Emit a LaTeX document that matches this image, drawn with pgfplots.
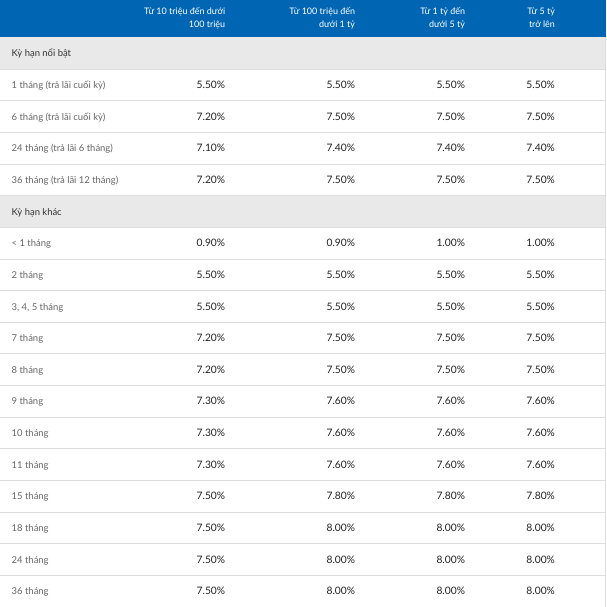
\documentclass[border=0pt]{standalone}
\usepackage{fontspec}
\setmainfont{Lato}
\usepackage{pgfplots}
\usepackage{pgfplotstable}
\pgfplotsset{compat=1.18}

\definecolor{hdr}{HTML}{0066B3}
\definecolor{secbg}{HTML}{E9E9E9}
\definecolor{sepc}{HTML}{DDDDDD}
\definecolor{lab}{HTML}{666666}
\definecolor{val}{HTML}{222222}
\definecolor{sect}{HTML}{333333}

\pgfplotstableread{
i c1 c2 c3 c4
1 5.50 5.50 5.50 5.50
2 7.20 7.50 7.50 7.50
3 7.10 7.40 7.40 7.40
4 7.20 7.50 7.50 7.50
6 0.90 0.90 1.00 1.00
7 5.50 5.50 5.50 5.50
8 5.50 5.50 5.50 5.50
9 7.20 7.50 7.50 7.50
10 7.20 7.50 7.50 7.50
11 7.30 7.60 7.60 7.60
12 7.30 7.60 7.60 7.60
13 7.30 7.60 7.60 7.60
14 7.50 7.80 7.80 7.80
15 7.50 8.00 8.00 8.00
16 7.50 8.00 8.00 8.00
17 7.50 8.00 8.00 8.00
}\vals

\pgfplotstableread[col sep=semicolon,row sep=\\]{
i;label\\
1;1 tháng (trả lãi cuối kỳ)\\
2;6 tháng (trả lãi cuối kỳ)\\
3;24 tháng (trả lãi 6 tháng)\\
4;36 tháng (trả lãi 12 tháng)\\
6;< 1 tháng\\
7;2 tháng\\
8;3, 4, 5 tháng\\
9;7 tháng\\
10;8 tháng\\
11;9 tháng\\
12;10 tháng\\
13;11 tháng\\
14;15 tháng\\
15;18 tháng\\
16;24 tháng\\
17;36 tháng\\
}\labels

\pgfplotstableread[col sep=semicolon,row sep=\\]{
i;label\\
0;Kỳ hạn nổi bật\\
5;Kỳ hạn khác\\
}\sections

\pgfplotstableread[col sep=semicolon,row sep=\\]{
x;y;t\\
225;11.5;Từ 10 triệu đến dưới\\
225;24.5;100 triệu\\
355;11.5;Từ 100 triệu đến\\
355;24.5;dưới 1 tỷ\\
465;11.5;Từ 1 tỷ đến\\
465;24.5;dưới 5 tỷ\\
555;11.5;Từ 5 tỷ\\
555;24.5;trở lên\\
}\header

\pgfplotstableread{
w k
606 1
606 2
606 3
606 4
606 5
606 6
606 7
606 8
606 9
606 10
606 11
606 12
606 13
606 14
606 15
606 16
606 17
}\seps

\pgfplotsset{
  txt/.style={only marks, mark=*, mark size=0pt, mark options={draw=none,fill=none},
    nodes near coords, point meta=explicit symbolic,
    nodes near coords style={inner sep=0pt, anchor=mid west, font=\fontsize{9.5}{10}\selectfont, text=lab}},
  num/.style={only marks, mark=*, mark size=0pt, mark options={draw=none,fill=none},
    nodes near coords={\pgfmathprintnumber[fixed,fixed zerofill,precision=2]{\pgfplotspointmeta}\%},
    point meta=explicit,
    nodes near coords style={inner sep=0pt, anchor=mid east, font=\fontsize{10.3}{11}\selectfont, text=val}},
}

\begin{document}
\begin{tikzpicture}
\begin{axis}[
  width=606bp, height=607bp, scale only axis,
  xmin=0, xmax=606, ymin=0, ymax=607, y dir=reverse,
  hide axis, clip=false,
  /pgf/number format/assume math mode=true,
]
% backgrounds
\addplot[fill=white, draw=none, mark=none] coordinates {(0,0) (606,0) (606,607) (0,607)};
\addplot[fill=hdr, draw=none, mark=none] coordinates {(0,0) (606,0) (606,37.5) (0,37.5)};
\addplot[fill=secbg, draw=none, mark=none] coordinates {(0,37.5) (606,37.5) (606,69.17) (0,69.17)};
\addplot[fill=secbg, draw=none, mark=none] coordinates {(0,195.85) (606,195.85) (606,227.52) (0,227.52)};
% row separators
\addplot[xcomb, draw=sepc, line width=1bp, mark=none] table[x=w, y expr=37.5+31.67*\thisrow{k}] {\seps};
\addplot[draw=sepc, line width=0.8bp, mark=none] coordinates {(605.4,37.5) (605.4,607)};
% header text
\addplot[txt, nodes near coords style={anchor=mid east, text=white, font=\fontsize{9}{10}\selectfont}] table[x=x, y=y, meta=t] {\header};
% section labels
\addplot[txt, nodes near coords style={text=sect}] table[x expr=11, y expr=38.5+31.67*(\thisrow{i}+0.5), meta=label] {\sections};
% row labels
\addplot[txt] table[x expr=11, y expr=38.5+31.67*(\thisrow{i}+0.5), meta=label] {\labels};
% values
\addplot[num] table[x expr=225, y expr=38.5+31.67*(\thisrow{i}+0.5), meta=c1] {\vals};
\addplot[num] table[x expr=355, y expr=38.5+31.67*(\thisrow{i}+0.5), meta=c2] {\vals};
\addplot[num] table[x expr=465, y expr=38.5+31.67*(\thisrow{i}+0.5), meta=c3] {\vals};
\addplot[num] table[x expr=555, y expr=38.5+31.67*(\thisrow{i}+0.5), meta=c4] {\vals};
\end{axis}
\end{tikzpicture}
\end{document}
